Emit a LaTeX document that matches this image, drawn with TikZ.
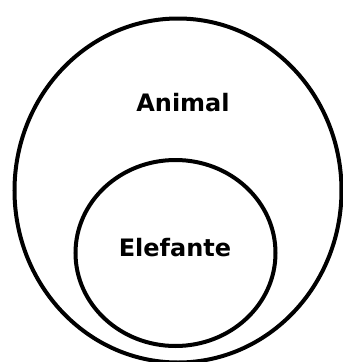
\documentclass[tikz,border=0pt]{standalone}
\usepackage{fontspec}
\setmainfont{DejaVu Sans}
\usetikzlibrary{shapes.geometric}

\begin{document}
\begin{tikzpicture}[x=1pt, y=-1pt,
  setring/.style={draw, ellipse, line width=4pt, inner sep=0pt},
  setname/.style={font=\bfseries\fontsize{24}{29}\selectfont, inner sep=0pt}
]
  \useasboundingbox (0,0) rectangle (343,362);
  \node[setring, minimum width=327pt, minimum height=344pt] (animalset) at (178,190.5) {};
  \node[setring, minimum width=200pt, minimum height=186pt] (elefanteset) at (175.5,253) {};

  \node[setname] (animal)   at (183,103) {Animal};
  \node[setname] (elefante) at (175,248) {Elefante};
\end{tikzpicture}
\end{document}
